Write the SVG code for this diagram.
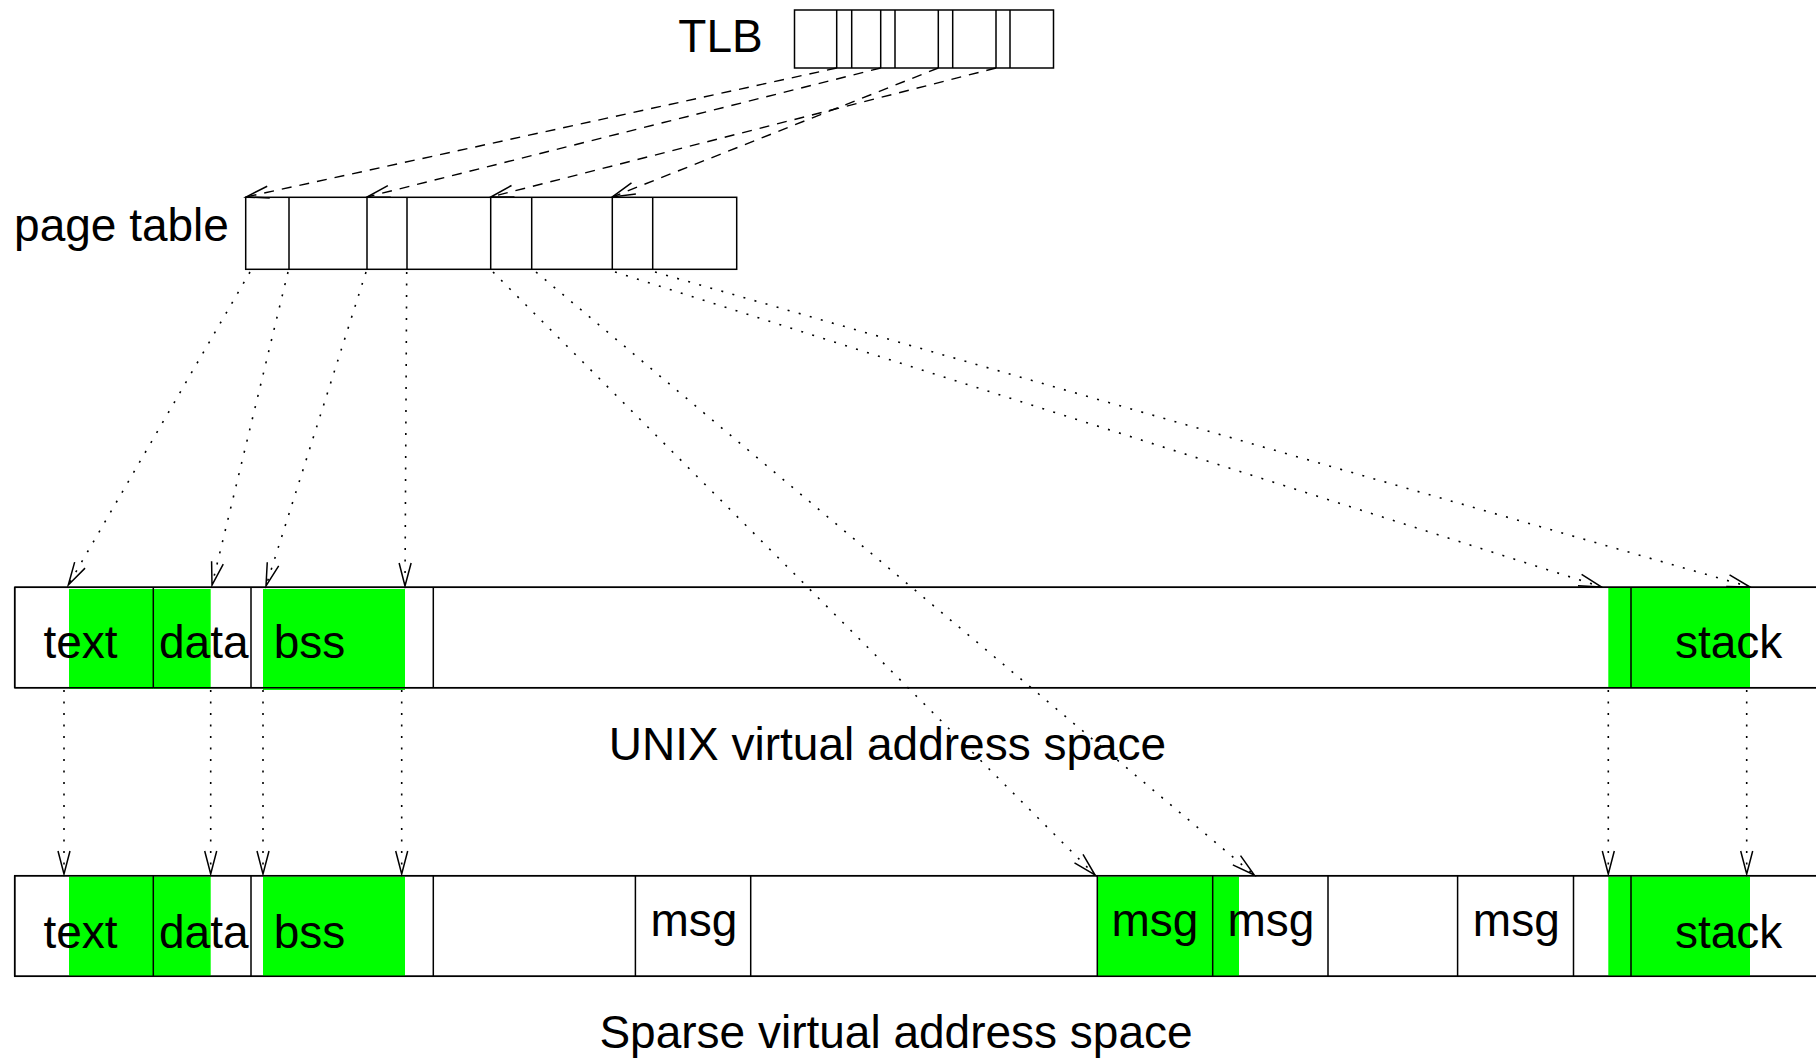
<svg xmlns="http://www.w3.org/2000/svg" width="1816" height="1059" viewBox="0 0 1816 1059">
  <defs>
    <style>
      .box { fill: #ffffff; stroke: #000000; stroke-width: 1.5; }
      .div { stroke: #000000; stroke-width: 1.5; fill: none; }
      .green { fill: #00ff00; stroke: none; }
      .lbl { font-family: "Liberation Sans", Arial, sans-serif; font-size: 46px; fill: #000000; text-anchor: middle; }
      .dash { fill: none; stroke: #000000; stroke-width: 1.4; stroke-dasharray: 10 8; marker-end: url(#arr); }
      .dot { fill: none; stroke: #000000; stroke-width: 1.6; stroke-dasharray: 2 9.5; marker-end: url(#arr); }
    </style>
    <marker id="arr" markerUnits="userSpaceOnUse" viewBox="-26 -9 28 18" refX="0" refY="0" markerWidth="28" markerHeight="18" orient="auto" overflow="visible">
      <path d="M-23,-6 L0,0 L-23,6" fill="none" stroke="#000000" stroke-width="1.5" stroke-dasharray="none"/>
    </marker>
  </defs>

  <rect x="0" y="0" width="1816" height="1059" fill="#ffffff"/>

  <g id="tlb">
    <text class="lbl" x="720.5" y="52">TLB</text>
    <rect class="box" x="794.5" y="10" width="259" height="58"/>
    <path class="div" d="M836.7,10V68 M851.7,10V68 M880.7,10V68 M895,10V68 M938.3,10V68 M952.7,10V68 M996,10V68 M1010,10V68"/>
  </g>

  <g id="page-table">
    <text class="lbl" x="121.5" y="241">page table</text>
    <rect class="box" x="245.7" y="197.3" width="491" height="72"/>
    <path class="div" d="M289,197.3V269.3 M367,197.3V269.3 M407,197.3V269.3 M490.7,197.3V269.3 M531.7,197.3V269.3 M612.3,197.3V269.3 M652.7,197.3V269.3"/>
  </g>

  <g id="unix-space">
    <rect class="box" x="14.7" y="587.3" width="1815" height="100.4"/>
    <rect class="green" x="69" y="589" width="84.3" height="100"/>
    <rect class="green" x="154" y="589" width="56.7" height="100"/>
    <rect class="green" x="263" y="589" width="142" height="101"/>
    <rect class="green" x="1608.3" y="588" width="141.7" height="99"/>
    <path class="div" d="M14.7,587.3H1830 M14.7,687.7H1830 M14.7,587.3V687.7 M153.3,587.3V687.7 M251,587.3V687.7 M433.3,587.3V687.7 M1631,587.3V687.7"/>
    <text class="lbl" x="80.5" y="658">text</text>
    <text class="lbl" x="203.8" y="658">data</text>
    <text class="lbl" x="309.5" y="658">bss</text>
    <text class="lbl" x="1728.7" y="658">stack</text>
  </g>
  <text id="unix-caption" class="lbl" x="887.5" y="760">UNIX virtual address space</text>

  <g id="sparse-space">
    <rect class="box" x="14.7" y="875.7" width="1815" height="100.6"/>
    <rect class="green" x="69" y="876.5" width="84.3" height="100"/>
    <rect class="green" x="154" y="876.5" width="56.7" height="100"/>
    <rect class="green" x="263" y="876.5" width="142" height="100"/>
    <rect class="green" x="1097.3" y="876.5" width="141.7" height="100"/>
    <rect class="green" x="1608.3" y="876.5" width="141.7" height="100"/>
    <path class="div" d="M14.7,875.7H1830 M14.7,976.3H1830 M14.7,875.7V976.3 M153.3,875.7V976.3 M251,875.7V976.3 M433.3,875.7V976.3 M635.4,875.7V976.3 M750.7,875.7V976.3 M1097.3,875.7V976.3 M1212.7,875.7V976.3 M1328,875.7V976.3 M1457.6,875.7V976.3 M1573.5,875.7V976.3 M1631,875.7V976.3"/>
    <text class="lbl" x="80.5" y="948">text</text>
    <text class="lbl" x="203.8" y="948">data</text>
    <text class="lbl" x="309.5" y="948">bss</text>
    <text class="lbl" x="694" y="936">msg</text>
    <text class="lbl" x="1155" y="936">msg</text>
    <text class="lbl" x="1271" y="936">msg</text>
    <text class="lbl" x="1516.3" y="936">msg</text>
    <text class="lbl" x="1728.7" y="948">stack</text>
  </g>
  <text id="sparse-caption" class="lbl" x="896" y="1048">Sparse virtual address space</text>

  <g id="connectors">
    <path class="dash" d="M836.7,68 L246,197"/>
    <path class="dash" d="M880.7,68 L367,197"/>
    <path class="dash" d="M938.3,68 L612.3,197"/>
    <path class="dash" d="M996,68 L490.7,197"/>

    <path class="dot" d="M250,272 L68.3,585"/>
    <path class="dot" d="M288,272 L212,585"/>
    <path class="dot" d="M366,272 L266,586"/>
    <path class="dot" d="M406.7,272 L405,586"/>
    <path class="dot" d="M493,272 L1095,875"/>
    <path class="dot" d="M536,272 L1254.3,875"/>
    <path class="dot" d="M615,272 L1601.7,587"/>
    <path class="dot" d="M655,272 L1750,587"/>

    <path class="dot" d="M64,690 L64,874"/>
    <path class="dot" d="M210.7,690 L210.7,874"/>
    <path class="dot" d="M263,690 L263,874"/>
    <path class="dot" d="M401.7,690 L401.7,874"/>
    <path class="dot" d="M1608.3,690 L1608.3,874"/>
    <path class="dot" d="M1746.7,690 L1746.7,874"/>
  </g>
</svg>
